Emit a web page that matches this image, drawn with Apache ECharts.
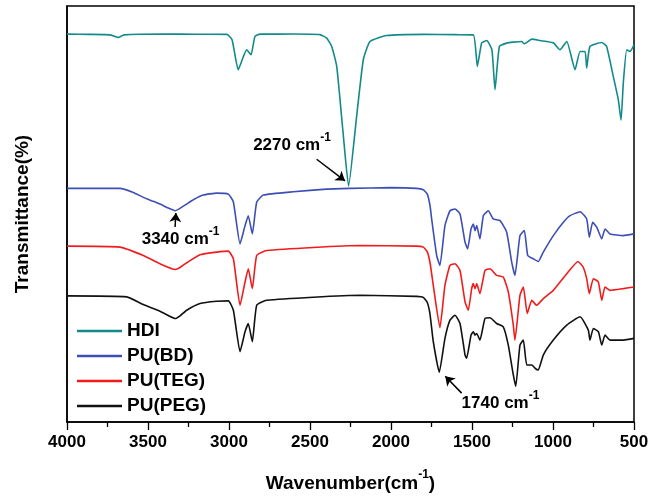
<!DOCTYPE html>
<html>
<head>
<meta charset="utf-8">
<script src="https://cdn.jsdelivr.net/npm/echarts@6/dist/echarts.min.js"></script>
<style>
  html, body { margin: 0; padding: 0; background: #fff; }
  #chart { width: 661px; height: 498px; }
</style>
</head>
<body>
<div id="chart"></div>
<script>
  // FTIR spectra, [wavenumber (cm-1), transmittance (arbitrary, offset per curve)]
  const hdiData = [
    [4000, 389.7], [3860, 389.5], [3735, 389], [3685, 386.3], [3648, 389], [3400, 389.8],
    [3200, 389.6], [3012, 389.5], [2981, 384], [2943, 354], [2914, 366], [2891, 374],
    [2864, 369], [2840, 387.3], [2809, 389.7], [2600, 389.8], [2438, 389.2], [2397, 385.7],
    [2366, 377.3], [2335, 357.3], [2296, 291], [2262, 237], [2212, 307.3], [2171, 364],
    [2130, 382.3], [2027, 388.3], [1800, 389.5], [1600, 389.2], [1492, 389], [1467, 357.3],
    [1440, 381], [1409, 383.3], [1377, 374], [1358, 334], [1331, 377.3], [1286, 380.7],
    [1245, 381.7], [1193, 382.3], [1177, 380], [1131, 384.7], [1080, 383.3], [998, 381],
    [957, 374], [915, 382.3], [864, 354], [833, 372.3], [802, 372.3], [792, 355.7],
    [772, 377.3], [699, 381.3], [669, 377.3], [628, 347.3], [597, 324], [580, 303.3],
    [566, 340.7], [545, 374], [525, 372.3], [500, 379]
  ];
  const bdData = [
    [4000, 234.7], [3673, 234.7], [3591, 230.7], [3529, 225.7], [3467, 221.7], [3426, 219],
    [3375, 215], [3333, 212.3], [3302, 214.7], [3261, 219], [3220, 223.3], [3159, 228],
    [3076, 230], [3004, 229], [2973, 221], [2932, 179], [2901, 197.3], [2881, 207.3],
    [2856, 189], [2829, 221], [2788, 228], [2603, 231.3], [2397, 234], [2253, 234.7],
    [2000, 235.5], [1842, 234.7], [1801, 233.3], [1776, 229], [1759, 217.3], [1749, 204],
    [1718, 167.3], [1698, 157.3], [1667, 197.3], [1636, 212.3], [1605, 214], [1574, 209],
    [1543, 180.7], [1527, 174], [1506, 194], [1492, 199], [1481, 192.3], [1471, 197.3],
    [1451, 184], [1430, 207.3], [1399, 212.3], [1369, 204], [1327, 202.3], [1286, 190.7],
    [1255, 160.7], [1235, 147.3], [1204, 187.3], [1177, 192.3], [1156, 167.3], [1122, 164],
    [1091, 161.3], [1060, 170.7], [998, 187.3], [936, 200.7], [895, 207.3], [833, 211.3],
    [792, 204], [776, 185.7], [755, 200.7], [730, 195.7], [699, 184], [679, 194],
    [648, 189], [566, 187.3], [500, 189]
  ];
  const tegData = [
    [4000, 176.7], [3673, 175.7], [3529, 167.3], [3426, 159], [3333, 153.3], [3302, 155.3],
    [3261, 160], [3179, 168], [3076, 170.7], [3004, 171.7], [2973, 164], [2932, 117.3],
    [2901, 140.7], [2881, 154], [2856, 134], [2829, 167.3], [2767, 172.3], [2191, 177.3],
    [1842, 176.7], [1801, 175.7], [1776, 171], [1759, 160], [1739, 137.3], [1698, 94.7],
    [1667, 137.3], [1636, 157.3], [1605, 159], [1574, 152.3], [1543, 120.7], [1523, 112.3],
    [1502, 134], [1492, 139], [1481, 134], [1471, 139], [1451, 129], [1420, 152.3],
    [1389, 154], [1348, 147.3], [1307, 145.7], [1276, 130.7], [1245, 97.3], [1235, 82.3],
    [1204, 127.3], [1183, 135.7], [1159, 109], [1131, 122.3], [1101, 117.3], [1060, 124],
    [998, 132.3], [915, 149], [846, 161.3], [815, 156], [792, 144], [776, 129],
    [751, 144], [720, 140.7], [699, 122.3], [679, 135.7], [648, 132.3], [566, 134],
    [500, 135.7]
  ];
  const pegData = [
    [4000, 126.7], [3631, 125.7], [3529, 118], [3426, 111.3], [3333, 104], [3302, 106.7],
    [3261, 112.3], [3179, 119], [3076, 121.3], [3004, 121.7], [2973, 112.3], [2932, 70.7],
    [2901, 90.7], [2881, 99], [2856, 80.7], [2829, 117.3], [2767, 122.3], [2191, 127.3],
    [1842, 126.2], [1801, 125.2], [1776, 120], [1759, 108], [1739, 80.7], [1702, 50],
    [1667, 84], [1636, 102.3], [1605, 107.3], [1574, 99], [1543, 67.3], [1533, 64],
    [1506, 87.3], [1492, 90.7], [1481, 87.3], [1471, 89], [1451, 82.3], [1420, 104],
    [1389, 104.7], [1348, 99], [1307, 95.7], [1276, 77.3], [1245, 47.3], [1230, 35.7],
    [1204, 77.3], [1183, 82.3], [1162, 57.3], [1131, 57.3], [1111, 54], [1091, 52.3],
    [1060, 67.3], [998, 82.3], [915, 97.3], [833, 105.7], [782, 92.3], [772, 82.3],
    [751, 94], [720, 90.7], [699, 77.3], [679, 87.3], [648, 82.3], [566, 82.3],
    [500, 84]
  ];

  const seriesNames = ['HDI', 'PU(BD)', 'PU(TEG)', 'PU(PEG)'];
  const seriesColors = ['#128a8a', '#3d4fb5', '#f01c1c', '#111111'];

  // peak labels: text, label centre, arrow start, arrow end
  const noteText = ['2270 cm', '3340 cm', '1740 cm'];
  const noteAt = [[2611, 281], [3299, 186], [1324, 21]];
  const arrowFrom = [[2459, 264], [3333, 196], [1564, 29]];
  const arrowTo = [[2284, 242.3], [3328, 210], [1665, 46]];

  const font = 'Liberation Sans, Arial, sans-serif';
  const chart = echarts.init(document.getElementById('chart'));

  let series = [hdiData, bdData, tegData, pegData].map((d, i) => ({
    name: seriesNames[i],
    type: 'line',
    data: d,
    symbol: 'none',
    smooth: 0.15,
    lineStyle: { width: 1.6, color: seriesColors[i] },
    itemStyle: { color: seriesColors[i] },
    animation: false
  }));

  series.push({
    name: 'notes',
    type: 'line',
    data: [],
    silent: true,
    animation: false,
    markPoint: {
      symbol: 'circle',
      symbolSize: 0,
      label: {
        show: true,
        position: 'inside',
        formatter: p => '{a|' + p.name + '}{s|-1}',
        rich: {
          a: { fontFamily: font, fontSize: 17, fontWeight: 'bold', color: '#000', lineHeight: 22, verticalAlign: 'bottom' },
          s: { fontFamily: font, fontSize: 12, fontWeight: 'bold', color: '#000', verticalAlign: 'top' }
        }
      },
      data: noteText.map((t, i) => ({ name: t, coord: noteAt[i] }))
    },
    markLine: {
      symbol: ['none', 'arrow'],
      symbolSize: 9,
      label: { show: false },
      lineStyle: { color: '#000', width: 1.5, type: 'solid' },
      data: arrowFrom.map((a, i) => [{ coord: a }, { coord: arrowTo[i] }])
    }
  });

  const option = {
    animation: false,
    grid: {
      left: 67, right: 27, top: 6, bottom: 74,
      show: true, borderColor: '#000', borderWidth: 1.5
    },
    legend: {
      data: seriesNames,
      orient: 'vertical',
      left: 72,
      top: 316,
      icon: 'rect',
      itemWidth: 45,
      itemHeight: 2.5,
      itemGap: 5,
      textStyle: { fontFamily: font, fontSize: 19, fontWeight: 'bold', color: '#000', lineHeight: 20 }
    },
    xAxis: {
      type: 'value',
      inverse: true,
      min: 500,
      max: 4000,
      interval: 500,
      name: '{a|Wavenumber(cm}{s|-1}{a|)}',
      nameLocation: 'middle',
      nameGap: 47,
      nameTextStyle: {
        rich: {
          a: { fontFamily: font, fontSize: 19, fontWeight: 'bold', color: '#000', lineHeight: 24, verticalAlign: 'bottom' },
          s: { fontFamily: font, fontSize: 12, fontWeight: 'bold', color: '#000', verticalAlign: 'top' }
        }
      },
      axisLine: { lineStyle: { color: '#000', width: 1.5 } },
      axisTick: { inside: false, length: 8, lineStyle: { color: '#000', width: 1.3 } },
      minorTick: { show: true, splitNumber: 2, length: 5, lineStyle: { color: '#000', width: 1.3 } },
      axisLabel: {
        fontFamily: font, fontSize: 17, fontWeight: 'bold', color: '#000', margin: 12,
        formatter: v => String(v)
      },
      splitLine: { show: false },
      minorSplitLine: { show: false }
    },
    yAxis: {
      type: 'value',
      min: 0,
      max: 418,
      name: 'Transmittance(%)',
      nameLocation: 'middle',
      nameGap: 35,
      nameTextStyle: { fontFamily: font, fontSize: 19, fontWeight: 'bold', color: '#000' },
      axisLine: { show: true, lineStyle: { color: '#000', width: 1.5 } },
      axisTick: { show: false },
      axisLabel: { show: false },
      splitLine: { show: false }
    },
    series: series
  };

  chart.setOption(option);
</script>
</body>
</html>
